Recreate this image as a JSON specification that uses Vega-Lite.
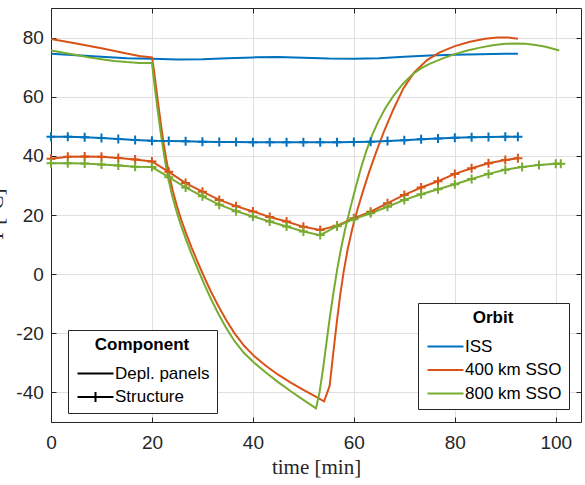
{
  "$schema": "https://vega.github.io/schema/vega-lite/v6.json",
  "width": 530,
  "height": 414,
  "autosize": {"type": "none"},
  "padding": {"left": 51, "top": 8, "right": 4, "bottom": 63},
  "background": "white",
  "config": {
    "view": {"stroke": null},
    "axis": {
      "labelFont": "Liberation Sans",
      "labelFontSize": 19,
      "labelColor": "#262626",
      "labelFlush": false,
      "domainColor": "#262626",
      "domainWidth": 1,
      "tickColor": "#262626",
      "tickSize": -5,
      "gridColor": "#e0e0e0",
      "titleFont": "Liberation Serif",
      "titleFontSize": 21,
      "titleFontWeight": "normal",
      "titleColor": "#262626"
    },
    "legend": {
      "labelFont": "Liberation Sans",
      "labelFontSize": 17,
      "labelColor": "black",
      "titleFont": "Liberation Sans",
      "titleFontSize": 17,
      "titleFontWeight": "bold",
      "titleColor": "black"
    }
  },
  "datasets": {
    "temps": [
      {"t":0,"T":74.5,"orbit":"ISS","component":"Depl. panels"},
      {"t":5,"T":74.0,"orbit":"ISS","component":"Depl. panels"},
      {"t":10,"T":73.5,"orbit":"ISS","component":"Depl. panels"},
      {"t":15,"T":73.0,"orbit":"ISS","component":"Depl. panels"},
      {"t":20,"T":72.8,"orbit":"ISS","component":"Depl. panels"},
      {"t":25,"T":72.6,"orbit":"ISS","component":"Depl. panels"},
      {"t":30,"T":72.7,"orbit":"ISS","component":"Depl. panels"},
      {"t":35,"T":73.0,"orbit":"ISS","component":"Depl. panels"},
      {"t":40,"T":73.3,"orbit":"ISS","component":"Depl. panels"},
      {"t":45,"T":73.4,"orbit":"ISS","component":"Depl. panels"},
      {"t":50,"T":73.2,"orbit":"ISS","component":"Depl. panels"},
      {"t":55,"T":72.9,"orbit":"ISS","component":"Depl. panels"},
      {"t":60,"T":72.8,"orbit":"ISS","component":"Depl. panels"},
      {"t":65,"T":73.0,"orbit":"ISS","component":"Depl. panels"},
      {"t":70,"T":73.5,"orbit":"ISS","component":"Depl. panels"},
      {"t":75,"T":73.9,"orbit":"ISS","component":"Depl. panels"},
      {"t":80,"T":74.2,"orbit":"ISS","component":"Depl. panels"},
      {"t":85,"T":74.4,"orbit":"ISS","component":"Depl. panels"},
      {"t":90,"T":74.5,"orbit":"ISS","component":"Depl. panels"},
      {"t":92.5,"T":74.5,"orbit":"ISS","component":"Depl. panels"},

      {"t":0,"T":79.5,"orbit":"400 km SSO","component":"Depl. panels"},
      {"t":5,"T":78.0,"orbit":"400 km SSO","component":"Depl. panels"},
      {"t":10,"T":76.4,"orbit":"400 km SSO","component":"Depl. panels"},
      {"t":15,"T":74.6,"orbit":"400 km SSO","component":"Depl. panels"},
      {"t":17.5,"T":73.8,"orbit":"400 km SSO","component":"Depl. panels"},
      {"t":20,"T":73.3,"orbit":"400 km SSO","component":"Depl. panels"},
      {"t":20.4,"T":69.0,"orbit":"400 km SSO","component":"Depl. panels"},
      {"t":20.8,"T":63.5,"orbit":"400 km SSO","component":"Depl. panels"},
      {"t":21.3,"T":56.8,"orbit":"400 km SSO","component":"Depl. panels"},
      {"t":21.8,"T":50.4,"orbit":"400 km SSO","component":"Depl. panels"},
      {"t":22.3,"T":44.5,"orbit":"400 km SSO","component":"Depl. panels"},
      {"t":22.8,"T":39.2,"orbit":"400 km SSO","component":"Depl. panels"},
      {"t":23.4,"T":33.7,"orbit":"400 km SSO","component":"Depl. panels"},
      {"t":24.1,"T":28.4,"orbit":"400 km SSO","component":"Depl. panels"},
      {"t":24.9,"T":23.3,"orbit":"400 km SSO","component":"Depl. panels"},
      {"t":25.8,"T":18.4,"orbit":"400 km SSO","component":"Depl. panels"},
      {"t":26.8,"T":13.6,"orbit":"400 km SSO","component":"Depl. panels"},
      {"t":27.9,"T":8.8,"orbit":"400 km SSO","component":"Depl. panels"},
      {"t":29.1,"T":3.9,"orbit":"400 km SSO","component":"Depl. panels"},
      {"t":30.3,"T":-0.8,"orbit":"400 km SSO","component":"Depl. panels"},
      {"t":31.6,"T":-5.6,"orbit":"400 km SSO","component":"Depl. panels"},
      {"t":33.1,"T":-10.6,"orbit":"400 km SSO","component":"Depl. panels"},
      {"t":34.7,"T":-15.5,"orbit":"400 km SSO","component":"Depl. panels"},
      {"t":36.4,"T":-20.1,"orbit":"400 km SSO","component":"Depl. panels"},
      {"t":38.3,"T":-24.3,"orbit":"400 km SSO","component":"Depl. panels"},
      {"t":40.3,"T":-27.8,"orbit":"400 km SSO","component":"Depl. panels"},
      {"t":42.5,"T":-30.9,"orbit":"400 km SSO","component":"Depl. panels"},
      {"t":45,"T":-34.0,"orbit":"400 km SSO","component":"Depl. panels"},
      {"t":47.5,"T":-36.7,"orbit":"400 km SSO","component":"Depl. panels"},
      {"t":50,"T":-39.1,"orbit":"400 km SSO","component":"Depl. panels"},
      {"t":52,"T":-41.0,"orbit":"400 km SSO","component":"Depl. panels"},
      {"t":54.1,"T":-43.0,"orbit":"400 km SSO","component":"Depl. panels"},
      {"t":55.2,"T":-37.8,"orbit":"400 km SSO","component":"Depl. panels"},
      {"t":56.0,"T":-25.5,"orbit":"400 km SSO","component":"Depl. panels"},
      {"t":56.6,"T":-16.6,"orbit":"400 km SSO","component":"Depl. panels"},
      {"t":57.3,"T":-7.0,"orbit":"400 km SSO","component":"Depl. panels"},
      {"t":58.0,"T":1.0,"orbit":"400 km SSO","component":"Depl. panels"},
      {"t":58.8,"T":8.6,"orbit":"400 km SSO","component":"Depl. panels"},
      {"t":59.7,"T":15.4,"orbit":"400 km SSO","component":"Depl. panels"},
      {"t":60.7,"T":21.8,"orbit":"400 km SSO","component":"Depl. panels"},
      {"t":61.8,"T":28.0,"orbit":"400 km SSO","component":"Depl. panels"},
      {"t":63.0,"T":34.4,"orbit":"400 km SSO","component":"Depl. panels"},
      {"t":64.4,"T":41.2,"orbit":"400 km SSO","component":"Depl. panels"},
      {"t":66.0,"T":48.4,"orbit":"400 km SSO","component":"Depl. panels"},
      {"t":67.8,"T":55.6,"orbit":"400 km SSO","component":"Depl. panels"},
      {"t":69.8,"T":62.8,"orbit":"400 km SSO","component":"Depl. panels"},
      {"t":72,"T":68.3,"orbit":"400 km SSO","component":"Depl. panels"},
      {"t":74.5,"T":72.4,"orbit":"400 km SSO","component":"Depl. panels"},
      {"t":77,"T":75.0,"orbit":"400 km SSO","component":"Depl. panels"},
      {"t":80,"T":77.1,"orbit":"400 km SSO","component":"Depl. panels"},
      {"t":83,"T":78.6,"orbit":"400 km SSO","component":"Depl. panels"},
      {"t":86,"T":79.6,"orbit":"400 km SSO","component":"Depl. panels"},
      {"t":88.5,"T":80.0,"orbit":"400 km SSO","component":"Depl. panels"},
      {"t":90.5,"T":80.0,"orbit":"400 km SSO","component":"Depl. panels"},
      {"t":92.5,"T":79.6,"orbit":"400 km SSO","component":"Depl. panels"},

      {"t":0,"T":75.6,"orbit":"800 km SSO","component":"Depl. panels"},
      {"t":2.5,"T":74.9,"orbit":"800 km SSO","component":"Depl. panels"},
      {"t":5,"T":74.1,"orbit":"800 km SSO","component":"Depl. panels"},
      {"t":7.5,"T":73.3,"orbit":"800 km SSO","component":"Depl. panels"},
      {"t":10,"T":72.7,"orbit":"800 km SSO","component":"Depl. panels"},
      {"t":12.5,"T":72.1,"orbit":"800 km SSO","component":"Depl. panels"},
      {"t":15,"T":71.7,"orbit":"800 km SSO","component":"Depl. panels"},
      {"t":17.5,"T":71.4,"orbit":"800 km SSO","component":"Depl. panels"},
      {"t":20,"T":71.4,"orbit":"800 km SSO","component":"Depl. panels"},
      {"t":20.3,"T":67.0,"orbit":"800 km SSO","component":"Depl. panels"},
      {"t":20.7,"T":61.3,"orbit":"800 km SSO","component":"Depl. panels"},
      {"t":21.2,"T":54.6,"orbit":"800 km SSO","component":"Depl. panels"},
      {"t":21.7,"T":48.3,"orbit":"800 km SSO","component":"Depl. panels"},
      {"t":22.2,"T":42.5,"orbit":"800 km SSO","component":"Depl. panels"},
      {"t":22.7,"T":37.3,"orbit":"800 km SSO","component":"Depl. panels"},
      {"t":23.3,"T":31.9,"orbit":"800 km SSO","component":"Depl. panels"},
      {"t":24.0,"T":26.6,"orbit":"800 km SSO","component":"Depl. panels"},
      {"t":24.8,"T":21.6,"orbit":"800 km SSO","component":"Depl. panels"},
      {"t":25.7,"T":16.7,"orbit":"800 km SSO","component":"Depl. panels"},
      {"t":26.7,"T":11.9,"orbit":"800 km SSO","component":"Depl. panels"},
      {"t":27.8,"T":7.0,"orbit":"800 km SSO","component":"Depl. panels"},
      {"t":29.0,"T":2.0,"orbit":"800 km SSO","component":"Depl. panels"},
      {"t":30.2,"T":-2.8,"orbit":"800 km SSO","component":"Depl. panels"},
      {"t":31.5,"T":-7.7,"orbit":"800 km SSO","component":"Depl. panels"},
      {"t":33.0,"T":-12.9,"orbit":"800 km SSO","component":"Depl. panels"},
      {"t":34.6,"T":-17.9,"orbit":"800 km SSO","component":"Depl. panels"},
      {"t":36.3,"T":-22.5,"orbit":"800 km SSO","component":"Depl. panels"},
      {"t":38.2,"T":-26.6,"orbit":"800 km SSO","component":"Depl. panels"},
      {"t":40.2,"T":-29.9,"orbit":"800 km SSO","component":"Depl. panels"},
      {"t":42.5,"T":-33.2,"orbit":"800 km SSO","component":"Depl. panels"},
      {"t":45,"T":-36.5,"orbit":"800 km SSO","component":"Depl. panels"},
      {"t":47.5,"T":-39.6,"orbit":"800 km SSO","component":"Depl. panels"},
      {"t":50,"T":-42.5,"orbit":"800 km SSO","component":"Depl. panels"},
      {"t":52.5,"T":-45.4,"orbit":"800 km SSO","component":"Depl. panels"},
      {"t":53.2,"T":-40.0,"orbit":"800 km SSO","component":"Depl. panels"},
      {"t":53.9,"T":-32.0,"orbit":"800 km SSO","component":"Depl. panels"},
      {"t":54.6,"T":-22.8,"orbit":"800 km SSO","component":"Depl. panels"},
      {"t":55.3,"T":-13.9,"orbit":"800 km SSO","component":"Depl. panels"},
      {"t":56.0,"T":-5.8,"orbit":"800 km SSO","component":"Depl. panels"},
      {"t":56.7,"T":1.6,"orbit":"800 km SSO","component":"Depl. panels"},
      {"t":57.5,"T":9.0,"orbit":"800 km SSO","component":"Depl. panels"},
      {"t":58.4,"T":16.2,"orbit":"800 km SSO","component":"Depl. panels"},
      {"t":59.4,"T":23.0,"orbit":"800 km SSO","component":"Depl. panels"},
      {"t":60.5,"T":30.2,"orbit":"800 km SSO","component":"Depl. panels"},
      {"t":61.5,"T":36.4,"orbit":"800 km SSO","component":"Depl. panels"},
      {"t":62.5,"T":41.8,"orbit":"800 km SSO","component":"Depl. panels"},
      {"t":63.6,"T":46.9,"orbit":"800 km SSO","component":"Depl. panels"},
      {"t":64.8,"T":51.5,"orbit":"800 km SSO","component":"Depl. panels"},
      {"t":66.2,"T":56.0,"orbit":"800 km SSO","component":"Depl. panels"},
      {"t":67.8,"T":60.2,"orbit":"800 km SSO","component":"Depl. panels"},
      {"t":69.7,"T":64.3,"orbit":"800 km SSO","component":"Depl. panels"},
      {"t":71.7,"T":67.7,"orbit":"800 km SSO","component":"Depl. panels"},
      {"t":73.3,"T":69.6,"orbit":"800 km SSO","component":"Depl. panels"},
      {"t":75,"T":71.1,"orbit":"800 km SSO","component":"Depl. panels"},
      {"t":77.5,"T":72.9,"orbit":"800 km SSO","component":"Depl. panels"},
      {"t":80,"T":74.4,"orbit":"800 km SSO","component":"Depl. panels"},
      {"t":82.5,"T":75.6,"orbit":"800 km SSO","component":"Depl. panels"},
      {"t":85,"T":76.6,"orbit":"800 km SSO","component":"Depl. panels"},
      {"t":87.5,"T":77.4,"orbit":"800 km SSO","component":"Depl. panels"},
      {"t":90,"T":77.9,"orbit":"800 km SSO","component":"Depl. panels"},
      {"t":92,"T":78.0,"orbit":"800 km SSO","component":"Depl. panels"},
      {"t":94,"T":77.9,"orbit":"800 km SSO","component":"Depl. panels"},
      {"t":96,"T":77.5,"orbit":"800 km SSO","component":"Depl. panels"},
      {"t":98,"T":76.9,"orbit":"800 km SSO","component":"Depl. panels"},
      {"t":100.7,"T":75.6,"orbit":"800 km SSO","component":"Depl. panels"},

      {"t":0,"T":46.5,"orbit":"ISS","component":"Structure"},
      {"t":3.33,"T":46.5,"orbit":"ISS","component":"Structure"},
      {"t":6.67,"T":46.3,"orbit":"ISS","component":"Structure"},
      {"t":10,"T":46.0,"orbit":"ISS","component":"Structure"},
      {"t":13.33,"T":45.7,"orbit":"ISS","component":"Structure"},
      {"t":16.67,"T":45.4,"orbit":"ISS","component":"Structure"},
      {"t":20,"T":45.1,"orbit":"ISS","component":"Structure"},
      {"t":23.33,"T":45.0,"orbit":"ISS","component":"Structure"},
      {"t":26.67,"T":44.9,"orbit":"ISS","component":"Structure"},
      {"t":30,"T":44.8,"orbit":"ISS","component":"Structure"},
      {"t":33.33,"T":44.7,"orbit":"ISS","component":"Structure"},
      {"t":36.67,"T":44.7,"orbit":"ISS","component":"Structure"},
      {"t":40,"T":44.6,"orbit":"ISS","component":"Structure"},
      {"t":43.33,"T":44.6,"orbit":"ISS","component":"Structure"},
      {"t":46.67,"T":44.6,"orbit":"ISS","component":"Structure"},
      {"t":50,"T":44.6,"orbit":"ISS","component":"Structure"},
      {"t":53.33,"T":44.6,"orbit":"ISS","component":"Structure"},
      {"t":56.67,"T":44.6,"orbit":"ISS","component":"Structure"},
      {"t":60,"T":44.7,"orbit":"ISS","component":"Structure"},
      {"t":63.33,"T":44.8,"orbit":"ISS","component":"Structure"},
      {"t":66.67,"T":45.0,"orbit":"ISS","component":"Structure"},
      {"t":70,"T":45.3,"orbit":"ISS","component":"Structure"},
      {"t":73.33,"T":45.6,"orbit":"ISS","component":"Structure"},
      {"t":76.67,"T":45.9,"orbit":"ISS","component":"Structure"},
      {"t":80,"T":46.1,"orbit":"ISS","component":"Structure"},
      {"t":83.33,"T":46.3,"orbit":"ISS","component":"Structure"},
      {"t":86.67,"T":46.4,"orbit":"ISS","component":"Structure"},
      {"t":90,"T":46.5,"orbit":"ISS","component":"Structure"},
      {"t":92.5,"T":46.5,"orbit":"ISS","component":"Structure"},

      {"t":0,"T":39.0,"orbit":"400 km SSO","component":"Structure"},
      {"t":3.33,"T":39.7,"orbit":"400 km SSO","component":"Structure"},
      {"t":6.67,"T":39.8,"orbit":"400 km SSO","component":"Structure"},
      {"t":10,"T":39.7,"orbit":"400 km SSO","component":"Structure"},
      {"t":13.33,"T":39.3,"orbit":"400 km SSO","component":"Structure"},
      {"t":16.67,"T":38.8,"orbit":"400 km SSO","component":"Structure"},
      {"t":20,"T":38.1,"orbit":"400 km SSO","component":"Structure"},
      {"t":23.33,"T":34.6,"orbit":"400 km SSO","component":"Structure"},
      {"t":26.67,"T":30.8,"orbit":"400 km SSO","component":"Structure"},
      {"t":30,"T":27.9,"orbit":"400 km SSO","component":"Structure"},
      {"t":33.33,"T":25.1,"orbit":"400 km SSO","component":"Structure"},
      {"t":36.67,"T":23.0,"orbit":"400 km SSO","component":"Structure"},
      {"t":40,"T":21.2,"orbit":"400 km SSO","component":"Structure"},
      {"t":43.33,"T":19.3,"orbit":"400 km SSO","component":"Structure"},
      {"t":46.67,"T":17.8,"orbit":"400 km SSO","component":"Structure"},
      {"t":50,"T":16.0,"orbit":"400 km SSO","component":"Structure"},
      {"t":53.33,"T":14.9,"orbit":"400 km SSO","component":"Structure"},
      {"t":56.67,"T":16.4,"orbit":"400 km SSO","component":"Structure"},
      {"t":60,"T":18.9,"orbit":"400 km SSO","component":"Structure"},
      {"t":63.33,"T":21.1,"orbit":"400 km SSO","component":"Structure"},
      {"t":66.67,"T":24.0,"orbit":"400 km SSO","component":"Structure"},
      {"t":70,"T":26.8,"orbit":"400 km SSO","component":"Structure"},
      {"t":73.33,"T":29.3,"orbit":"400 km SSO","component":"Structure"},
      {"t":76.67,"T":31.4,"orbit":"400 km SSO","component":"Structure"},
      {"t":80,"T":33.9,"orbit":"400 km SSO","component":"Structure"},
      {"t":83.33,"T":35.8,"orbit":"400 km SSO","component":"Structure"},
      {"t":86.67,"T":37.5,"orbit":"400 km SSO","component":"Structure"},
      {"t":90,"T":38.6,"orbit":"400 km SSO","component":"Structure"},
      {"t":92.5,"T":39.2,"orbit":"400 km SSO","component":"Structure"},

      {"t":0,"T":37.5,"orbit":"800 km SSO","component":"Structure"},
      {"t":3.33,"T":37.5,"orbit":"800 km SSO","component":"Structure"},
      {"t":6.67,"T":37.4,"orbit":"800 km SSO","component":"Structure"},
      {"t":10,"T":37.1,"orbit":"800 km SSO","component":"Structure"},
      {"t":13.33,"T":36.7,"orbit":"800 km SSO","component":"Structure"},
      {"t":16.67,"T":36.3,"orbit":"800 km SSO","component":"Structure"},
      {"t":20,"T":36.2,"orbit":"800 km SSO","component":"Structure"},
      {"t":23.33,"T":32.8,"orbit":"800 km SSO","component":"Structure"},
      {"t":26.67,"T":29.3,"orbit":"800 km SSO","component":"Structure"},
      {"t":30,"T":26.3,"orbit":"800 km SSO","component":"Structure"},
      {"t":33.33,"T":23.5,"orbit":"800 km SSO","component":"Structure"},
      {"t":36.67,"T":21.3,"orbit":"800 km SSO","component":"Structure"},
      {"t":40,"T":19.5,"orbit":"800 km SSO","component":"Structure"},
      {"t":43.33,"T":17.8,"orbit":"800 km SSO","component":"Structure"},
      {"t":46.67,"T":16.1,"orbit":"800 km SSO","component":"Structure"},
      {"t":50,"T":14.4,"orbit":"800 km SSO","component":"Structure"},
      {"t":53.33,"T":13.2,"orbit":"800 km SSO","component":"Structure"},
      {"t":56.67,"T":16.2,"orbit":"800 km SSO","component":"Structure"},
      {"t":60,"T":18.6,"orbit":"800 km SSO","component":"Structure"},
      {"t":63.33,"T":20.6,"orbit":"800 km SSO","component":"Structure"},
      {"t":66.67,"T":22.8,"orbit":"800 km SSO","component":"Structure"},
      {"t":70,"T":25.1,"orbit":"800 km SSO","component":"Structure"},
      {"t":73.33,"T":27.0,"orbit":"800 km SSO","component":"Structure"},
      {"t":76.67,"T":28.7,"orbit":"800 km SSO","component":"Structure"},
      {"t":80,"T":30.4,"orbit":"800 km SSO","component":"Structure"},
      {"t":83.33,"T":32.2,"orbit":"800 km SSO","component":"Structure"},
      {"t":86.67,"T":33.9,"orbit":"800 km SSO","component":"Structure"},
      {"t":90,"T":35.3,"orbit":"800 km SSO","component":"Structure"},
      {"t":93.33,"T":36.2,"orbit":"800 km SSO","component":"Structure"},
      {"t":96.67,"T":36.9,"orbit":"800 km SSO","component":"Structure"},
      {"t":100,"T":37.3,"orbit":"800 km SSO","component":"Structure"},
      {"t":101,"T":37.3,"orbit":"800 km SSO","component":"Structure"}
    ]
  },
  "data": {"name": "temps"},
  "layer": [
    {
      "mark": {"type": "line", "strokeWidth": 2, "clip": true},
      "encoding": {
        "x": {
          "field": "t", "type": "quantitative",
          "scale": {"domain": [0, 105], "nice": false, "zero": false},
          "axis": {"values": [0, 20, 40, 60, 80, 100], "title": "time [min]", "grid": true, "labelPadding": 16, "titleY": 51, "titleBaseline": "alphabetic"}
        },
        "y": {
          "field": "T", "type": "quantitative",
          "scale": {"domain": [-50, 90], "nice": false, "zero": false},
          "axis": {"values": [-40, -20, 0, 20, 40, 60, 80], "title": "T [°C]", "grid": true, "labelPadding": 12.7, "labelExpr": "'' + datum.value", "titleX": -48.3, "titleY": 207, "titleBaseline": "alphabetic"}
        },
        "color": {
          "field": "orbit", "type": "nominal",
          "scale": {"domain": ["ISS", "400 km SSO", "800 km SSO"], "range": ["#0072BD", "#D95319", "#77AC30"]},
          "legend": {
            "title": "Orbit", "orient": "none", "legendX": 367, "legendY": 295,
            "symbolType": "M-3.6,0H3.6", "symbolSize": 100, "symbolStrokeWidth": 2,
            "symbolOffset": 12, "labelOffset": 11, "padding": 7, "rowPadding": 5.5, "titlePadding": 11,
            "titleAnchor": "middle", "strokeColor": "#262626", "fillColor": "white"
          }
        },
        "detail": {"field": "component"}
      }
    },
    {
      "transform": [{"filter": "datum.component === 'Structure'"}],
      "mark": {"type": "point", "shape": "M-1,0H1M0,-1V1", "size": 81, "strokeWidth": 2, "filled": false, "opacity": 1},
      "encoding": {
        "x": {"field": "t", "type": "quantitative", "axis": null},
        "y": {"field": "T", "type": "quantitative", "axis": null},
        "color": {"field": "orbit", "type": "nominal", "legend": null}
      }
    },
    {
      "mark": {"type": "point", "color": "black", "opacity": 0, "strokeWidth": 2},
      "encoding": {
        "x": {"field": "t", "type": "quantitative", "axis": {"orient": "top", "labels": false, "title": null, "grid": false, "values": [0, 20, 40, 60, 80, 100]}},
        "y": {"field": "T", "type": "quantitative", "axis": {"orient": "right", "labels": false, "title": null, "grid": false, "values": [-40, -20, 0, 20, 40, 60, 80]}},
        "shape": {
          "field": "component", "type": "nominal",
          "scale": {"domain": ["Depl. panels", "Structure"], "range": ["M-3.6,0H3.6", "M-3.6,0H3.6M0,-1V1"]},
          "legend": {
            "title": "Component", "orient": "none", "legendX": 17, "legendY": 322,
            "symbolSize": 100, "symbolStrokeWidth": 2, "symbolOpacity": 1,
            "symbolStrokeColor": "black", "symbolFillColor": "transparent",
            "symbolOffset": 12, "labelOffset": 11, "padding": 7, "rowPadding": 5.5, "titlePadding": 11,
            "titleAnchor": "middle", "strokeColor": "#262626", "fillColor": "white"
          }
        }
      }
    }
  ],
  "resolve": {"axis": {"x": "independent", "y": "independent"}}
}
